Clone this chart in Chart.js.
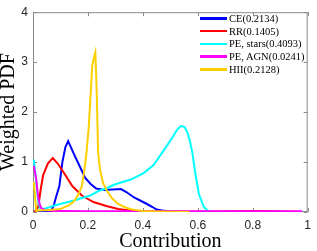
<!DOCTYPE html>
<html>
<head>
<meta charset="utf-8">
<script src="https://cdn.jsdelivr.net/npm/chart.js@4/dist/chart.umd.min.js"></script>
<style>
    html, body { margin: 0; padding: 0; background: #fff; }
    #wrap { position: relative; width: 317px; height: 251px; }
    #legend { position: absolute; left: 200px; top: 12px; font: 10.5px "Liberation Serif", serif; color: #000; }
    #legend .row { display: flex; align-items: center; height: 12.75px; white-space: nowrap; }
    #legend .sw { width: 27px; height: 2.5px; margin-right: 2px; }
</style>
</head>
<body>
<div id="wrap">
    <canvas id="chart" width="317" height="251"></canvas>
    <div id="legend"></div>
</div>
<script>
// values
const seriesLabels = ["CE(0.2134)", "RR(0.1405)", "PE, stars(0.4093)", "PE, AGN(0.0241)", "HII(0.2128)"];

const ceX = [0.005, 0.065, 0.075, 0.085, 0.096, 0.107, 0.118, 0.128, 0.15, 0.167, 0.19, 0.21, 0.23, 0.26, 0.29, 0.32, 0.34, 0.368, 0.39, 0.415, 0.435, 0.45, 0.47, 0.5, 0.55];
const ceY = [0, 0.01, 0.12, 0.32, 0.52, 1.0, 1.3, 1.42, 1.15, 0.95, 0.68, 0.56, 0.47, 0.44, 0.45, 0.46, 0.4, 0.29, 0.23, 0.16, 0.1, 0.05, 0.03, 0.01, 0];

const rrX = [0.005, 0.019, 0.028, 0.037, 0.054, 0.072, 0.09, 0.113, 0.143, 0.178, 0.22, 0.267, 0.31, 0.35, 0.4, 0.5, 0.6, 0.7, 0.8, 0.9, 0.98];
const rrY = [0, 0.1, 0.45, 0.74, 0.97, 1.08, 0.97, 0.78, 0.52, 0.33, 0.2, 0.12, 0.06, 0.03, 0.015, 0.008, 0.005, 0.01, 0.02, 0.01, 0];

const psX = [0.003, 0.01, 0.018, 0.025, 0.04, 0.078, 0.149, 0.208, 0.238, 0.267, 0.297, 0.326, 0.356, 0.403, 0.439, 0.474, 0.51, 0.525, 0.539, 0.552, 0.563, 0.572, 0.58, 0.592, 0.604, 0.622, 0.64, 0.7, 0.8, 0.9, 0.98];
const psY = [1.05, 0.7, 0.25, 0.08, 0.06, 0.13, 0.23, 0.33, 0.42, 0.47, 0.55, 0.6, 0.65, 0.78, 0.94, 1.22, 1.51, 1.65, 1.72, 1.7, 1.58, 1.4, 1.19, 0.74, 0.36, 0.1, 0.01, 0, 0, 0, 0];

const paX = [0.003, 0.012, 0.019, 0.025, 0.031, 0.045, 0.066, 0.1, 0.2, 0.4, 0.6, 0.8, 0.98];
const paY = [0.92, 0.65, 0.29, 0.14, 0.07, 0.04, 0.025, 0.02, 0.015, 0.015, 0.015, 0.015, 0.015];

const hiiX = [0.003, 0.012, 0.02, 0.06, 0.1, 0.13, 0.15, 0.165, 0.178, 0.186, 0.194, 0.203, 0.216, 0.227, 0.232, 0.237, 0.244, 0.255, 0.27, 0.285, 0.31, 0.332, 0.36, 0.4, 0.45, 0.5, 0.57];
const hiiY = [0.6, 0.02, 0.03, 0.04, 0.06, 0.13, 0.22, 0.35, 0.52, 0.8, 1.15, 1.7, 2.95, 3.19, 2.4, 1.2, 0.85, 0.58, 0.42, 0.29, 0.16, 0.1, 0.05, 0.02, 0.01, 0.005, 0];

const xTicks = [0, 0.2, 0.4, 0.6, 0.8, 1];
const yTicks = [0, 1, 2, 3, 4];

const COLORS = ["#0000ff", "#ff0000", "#00ffff", "#ff00ff", "#ffd000"];
const AXIS_COLOR = "#8a8a8a";
const TEXT_COLOR = "#262626";

const seriesX = [ceX, rrX, psX, paX, hiiX];
const seriesY = [ceY, rrY, psY, paY, hiiY];

const datasets = seriesLabels.map((label, i) => ({
    label,
    data: seriesX[i].map((x, k) => ({ x, y: seriesY[i][k] })),
    borderColor: COLORS[i],
    backgroundColor: COLORS[i],
    borderWidth: 2,
    pointRadius: 0,
    tension: 0,
    // matlab draws later series on top
    order: seriesLabels.length - i,
}));

// box round the axes with inward ticks, like matlab's "box on"
const framePlugin = {
    id: "frame",
    beforeDatasetsDraw(chart) {
        const { ctx, chartArea: a, scales } = chart;
        const len = 4;
        ctx.save();
        ctx.strokeStyle = AXIS_COLOR;
        ctx.lineWidth = 1;
        ctx.strokeRect(a.left + 0.5, a.top + 0.5, a.right - a.left - 1, a.bottom - a.top - 1);
        ctx.beginPath();
        xTicks.forEach((v) => {
            const px = Math.round(scales.x.getPixelForValue(v)) + 0.5;
            ctx.moveTo(px, a.bottom); ctx.lineTo(px, a.bottom - len);
            ctx.moveTo(px, a.top); ctx.lineTo(px, a.top + len);
        });
        yTicks.forEach((v) => {
            const py = Math.round(scales.y.getPixelForValue(v)) + 0.5;
            ctx.moveTo(a.left, py); ctx.lineTo(a.left + len, py);
            ctx.moveTo(a.right, py); ctx.lineTo(a.right - len, py);
        });
        ctx.stroke();
        ctx.restore();
    },
};

const tickFont = { family: "'Liberation Sans', Arial, sans-serif", size: 12 };
const titleFont = { family: "'Liberation Serif', serif", size: 20 };

const chart = new Chart(document.getElementById("chart"), {
    type: "line",
    data: { datasets },
    plugins: [framePlugin],
    options: {
        responsive: false,
        animation: false,
        devicePixelRatio: 1,
        layout: { padding: { top: 4, right: 2, left: 0, bottom: 0 } },
        plugins: { legend: { display: false }, tooltip: { enabled: false } },
        scales: {
            x: {
                type: "linear",
                min: 0,
                max: 1,
                afterBuildTicks: (s) => { s.ticks = xTicks.map((value) => ({ value })); },
                afterFit: (s) => { s.height = 39; },
                grid: { display: false, drawTicks: false },
                border: { display: false },
                ticks: {
                    font: tickFont, color: TEXT_COLOR, padding: 6, maxRotation: 0, autoSkip: false,
                    callback: (v) => String(v),
                },
                title: { display: true, text: "Contribution", font: titleFont, color: "#000", padding: { top: 0, bottom: -3 } },
            },
            y: {
                type: "linear",
                min: 0,
                max: 4,
                afterBuildTicks: (s) => { s.ticks = yTicks.map((value) => ({ value })); },
                afterFit: (s) => { s.width = 33; },
                grid: { display: false, drawTicks: false },
                border: { display: false },
                ticks: { font: tickFont, color: TEXT_COLOR, padding: 5, callback: (v) => String(v) },
                title: { display: true, text: "Weighted PDF", font: titleFont, color: "#000", padding: { top: -3, bottom: 0 } },
            },
        },
    },
});

// legend in the top right, no box, in matlab's order
const legendEl = document.getElementById("legend");
chart.data.datasets.forEach((ds) => {
    const row = document.createElement("div");
    row.className = "row";
    const sw = document.createElement("span");
    sw.className = "sw";
    sw.style.background = ds.borderColor;
    const txt = document.createElement("span");
    txt.textContent = ds.label;
    row.append(sw, txt);
    legendEl.append(row);
});
</script>
</body>
</html>
